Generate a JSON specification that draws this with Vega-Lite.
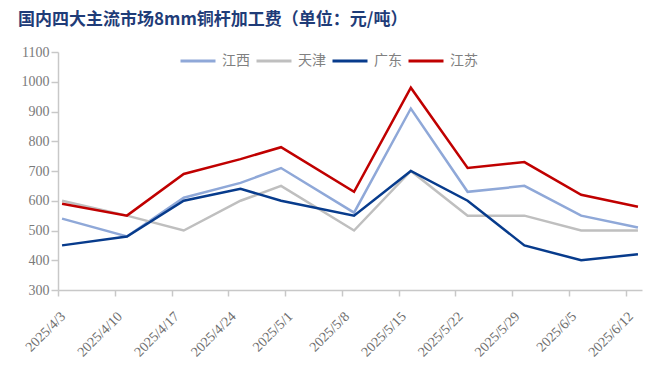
{
  "$schema": "https://vega.github.io/schema/vega-lite/v6.json",
  "autosize": {"type": "none"},
  "width": 584,
  "height": 238,
  "padding": {"left": 58, "top": 52, "right": 18, "bottom": 84},
  "background": "white",
  "title": {
    "text": "国内四大主流市场8mm铜杆加工费（单位：元/吨）",
    "anchor": "start",
    "frame": "group",
    "dx": -40,
    "dy": 25,
    "offset": 25,
    "baseline": "alphabetic",
    "font": "Noto Sans CJK SC",
    "fontSize": 17,
    "fontWeight": "bold",
    "color": "#1F3C78"
  },
  "config": {
    "view": {"stroke": null},
    "axis": {"grid": false}
  },
  "data": {
    "values": [
      {"date": "2025/04/03", "region": "江西", "value": 540},
      {"date": "2025/04/11", "region": "江西", "value": 480},
      {"date": "2025/04/18", "region": "江西", "value": 610},
      {"date": "2025/04/25", "region": "江西", "value": 660},
      {"date": "2025/04/30", "region": "江西", "value": 710},
      {"date": "2025/05/09", "region": "江西", "value": 560},
      {"date": "2025/05/16", "region": "江西", "value": 910},
      {"date": "2025/05/23", "region": "江西", "value": 630},
      {"date": "2025/05/30", "region": "江西", "value": 650},
      {"date": "2025/06/06", "region": "江西", "value": 550},
      {"date": "2025/06/13", "region": "江西", "value": 510},
      {"date": "2025/04/03", "region": "天津", "value": 600},
      {"date": "2025/04/11", "region": "天津", "value": 550},
      {"date": "2025/04/18", "region": "天津", "value": 500},
      {"date": "2025/04/25", "region": "天津", "value": 600},
      {"date": "2025/04/30", "region": "天津", "value": 650},
      {"date": "2025/05/09", "region": "天津", "value": 500},
      {"date": "2025/05/16", "region": "天津", "value": 700},
      {"date": "2025/05/23", "region": "天津", "value": 550},
      {"date": "2025/05/30", "region": "天津", "value": 550},
      {"date": "2025/06/06", "region": "天津", "value": 500},
      {"date": "2025/06/13", "region": "天津", "value": 500},
      {"date": "2025/04/03", "region": "广东", "value": 450},
      {"date": "2025/04/11", "region": "广东", "value": 480},
      {"date": "2025/04/18", "region": "广东", "value": 600},
      {"date": "2025/04/25", "region": "广东", "value": 640},
      {"date": "2025/04/30", "region": "广东", "value": 600},
      {"date": "2025/05/09", "region": "广东", "value": 550},
      {"date": "2025/05/16", "region": "广东", "value": 700},
      {"date": "2025/05/23", "region": "广东", "value": 600},
      {"date": "2025/05/30", "region": "广东", "value": 450},
      {"date": "2025/06/06", "region": "广东", "value": 400},
      {"date": "2025/06/13", "region": "广东", "value": 420},
      {"date": "2025/04/03", "region": "江苏", "value": 590},
      {"date": "2025/04/11", "region": "江苏", "value": 550},
      {"date": "2025/04/18", "region": "江苏", "value": 690},
      {"date": "2025/04/25", "region": "江苏", "value": 740},
      {"date": "2025/04/30", "region": "江苏", "value": 780},
      {"date": "2025/05/09", "region": "江苏", "value": 630},
      {"date": "2025/05/16", "region": "江苏", "value": 980},
      {"date": "2025/05/23", "region": "江苏", "value": 710},
      {"date": "2025/05/30", "region": "江苏", "value": 730},
      {"date": "2025/06/06", "region": "江苏", "value": 620},
      {"date": "2025/06/13", "region": "江苏", "value": 580}
    ]
  },
  "mark": {"type": "line", "strokeWidth": 2.5, "strokeJoin": "miter", "strokeCap": "butt"},
  "encoding": {
    "x": {
      "field": "date",
      "type": "temporal",
      "timeUnit": "yearmonthdate",
      "bandPosition": 0.5,
      "title": null,
      "scale": {
        "domain": [{"year": 2025, "month": 4, "date": 3}, {"year": 2025, "month": 6, "date": 14}],
        "nice": false
      },
      "axis": {
        "values": [
          {"year": 2025, "month": 4, "date": 3},
          {"year": 2025, "month": 4, "date": 10},
          {"year": 2025, "month": 4, "date": 17},
          {"year": 2025, "month": 4, "date": 24},
          {"year": 2025, "month": 5, "date": 1},
          {"year": 2025, "month": 5, "date": 8},
          {"year": 2025, "month": 5, "date": 15},
          {"year": 2025, "month": 5, "date": 22},
          {"year": 2025, "month": 5, "date": 29},
          {"year": 2025, "month": 6, "date": 5},
          {"year": 2025, "month": 6, "date": 12}
        ],
        "format": "%Y/%-m/%-d",
        "labelAngle": -45,
        "labelAlign": "right",
        "labelBaseline": "top",
        "labelPadding": 13,
        "labelFont": "Liberation Serif",
        "labelFontSize": 14,
        "labelColor": "#6E6E6E",
        "labelOverlap": false,
        "labelFlush": false,
        "domainColor": "#C8C8C8",
        "domainWidth": 1.5,
        "tickColor": "#C8C8C8",
        "tickSize": 6,
        "tickWidth": 1.5
      }
    },
    "y": {
      "field": "value",
      "type": "quantitative",
      "title": null,
      "scale": {"domain": [300, 1100], "nice": false, "zero": false},
      "axis": {
        "values": [300, 400, 500, 600, 700, 800, 900, 1000, 1100],
        "format": "d",
        "labelFont": "Liberation Serif",
        "labelFontSize": 14,
        "labelColor": "#7A7A7A",
        "labelPadding": 2,
        "domainColor": "#C8C8C8",
        "domainWidth": 1.5,
        "tickColor": "#C8C8C8",
        "tickSize": 7,
        "tickWidth": 1.5
      }
    },
    "color": {
      "field": "region",
      "type": "nominal",
      "sort": ["江西", "天津", "广东", "江苏"],
      "scale": {
        "domain": ["江西", "天津", "广东", "江苏"],
        "range": ["#8FA8D8", "#BFBFBF", "#073B8C", "#C00000"]
      },
      "legend": {
        "title": null,
        "orient": "none",
        "direction": "horizontal",
        "legendX": 121,
        "legendY": -10,
        "padding": 0,
        "symbolType": "stroke",
        "symbolSize": 1225,
        "symbolStrokeWidth": 3,
        "labelFont": "Noto Sans CJK SC",
        "labelFontSize": 14,
        "labelColor": "#808080",
        "labelOffset": 5,
        "columnPadding": 0
      }
    }
  }
}
